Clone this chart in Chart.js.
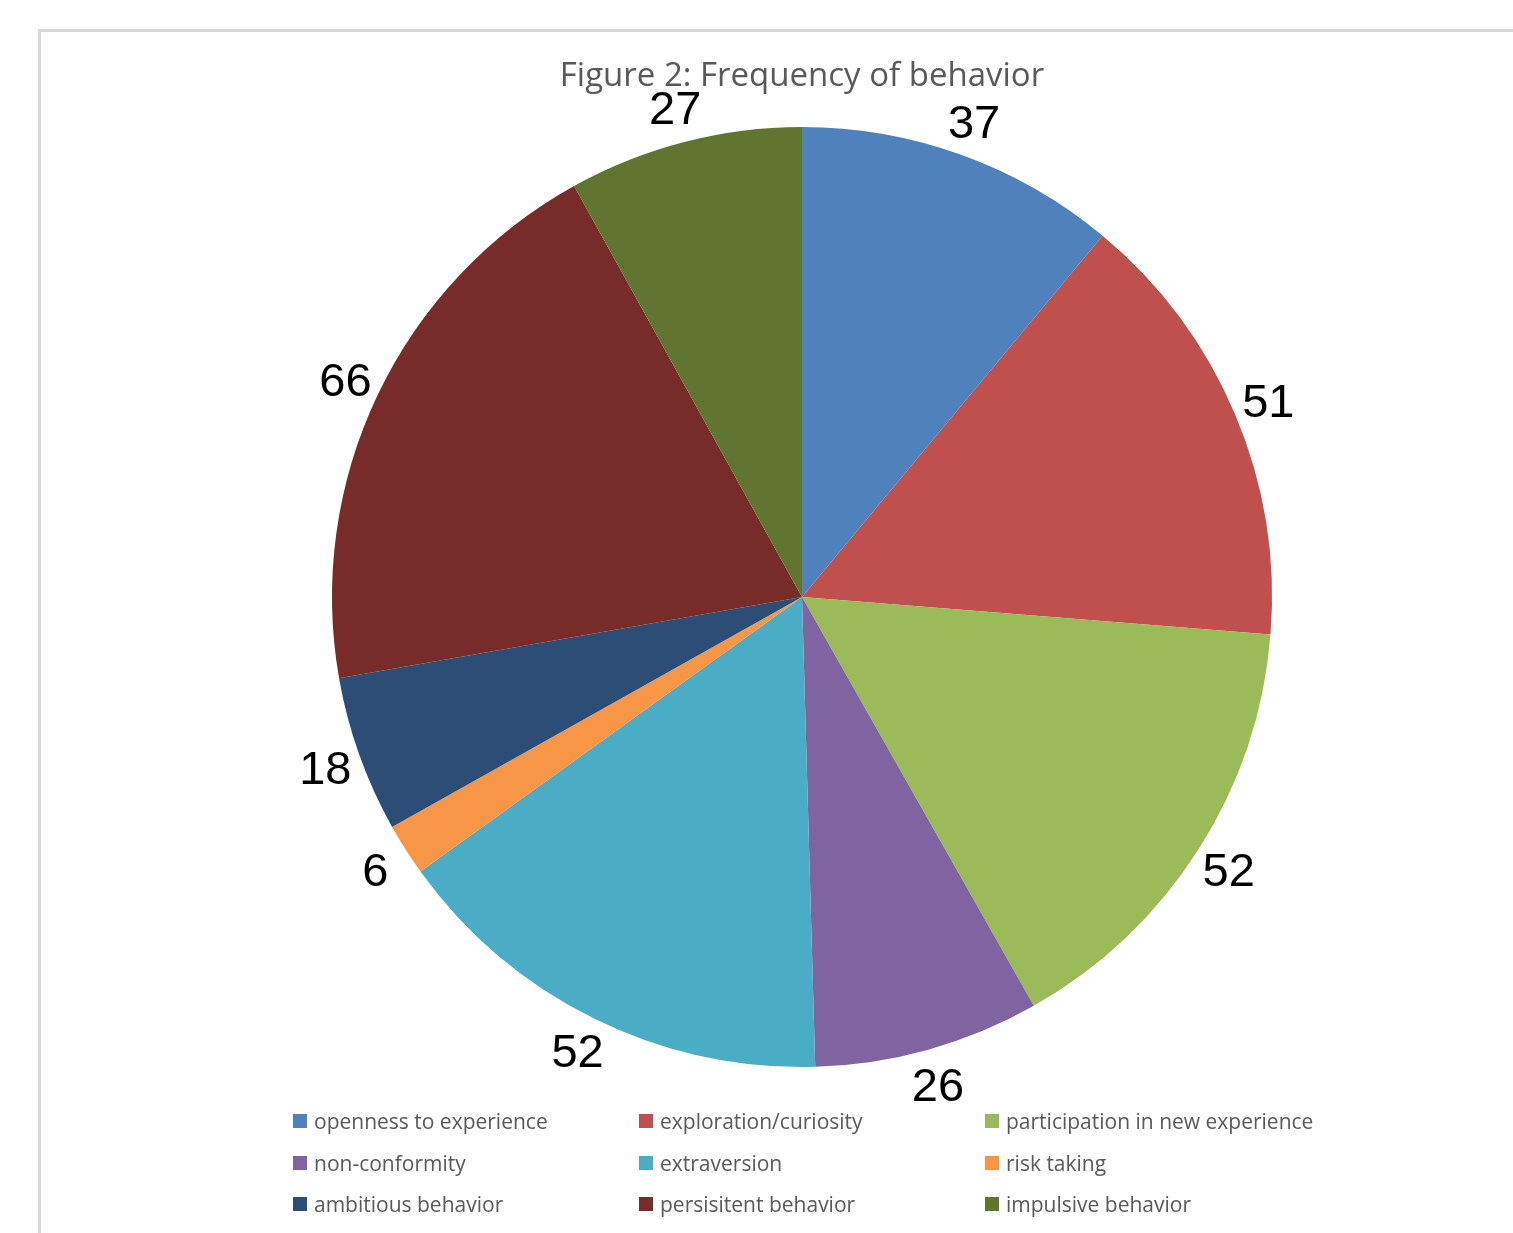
<!DOCTYPE html>
<html>
<head>
<meta charset="utf-8">
<script src="https://cdn.jsdelivr.net/npm/chart.js@4.4.0/dist/chart.umd.min.js"></script>
<style>
    html, body { margin: 0; padding: 0; background: #fff; overflow: hidden; }
    #frame {
        position: absolute; left: 38px; top: 29px;
        width: 1600px; height: 1300px;
        border: 3px solid #d9d9d9; box-sizing: border-box;
    }
    #pieChart { position: absolute; left: 0; top: 0; }
    #legend {
        position: absolute; left: 293px; top: 1107px;
        display: grid; grid-template-columns: 346px 346px 346px;
        grid-auto-rows: 41.5px;
        font-family: "Open Sans", sans-serif; font-size: 21px; color: #595959;
    }
    .item { display: flex; align-items: center; height: 28px; white-space: nowrap; }
    .box { width: 14px; height: 14px; margin-right: 7px; flex: none; }
</style>
</head>
<body>
<div id="frame"></div>
<canvas id="pieChart" width="1513" height="1233"></canvas>
<div id="legend"></div>
<script>
const labels = [
    'openness to experience',
    'exploration/curiosity',
    'participation in new experience',
    'non-conformity',
    'extraversion',
    'risk taking',
    'ambitious behavior',
    'persisitent behavior',
    'impulsive behavior',
];

const counts = [37, 51, 52, 26, 52, 6, 18, 66, 27];

const colors = [
    '#4F81BD',
    '#C0504D',
    '#9BBB59',
    '#8064A2',
    '#4BACC6',
    '#F79646',
    '#2C4D75',
    '#772C2A',
    '#5F7530',
];

// numbers outside the pie, on the middle angle of each slice
const outsideLabels = {
    id: 'outsideLabels',
    afterDatasetsDraw(chart) {
        const ctx = chart.ctx;
        const meta = chart.getDatasetMeta(0);
        const size = 47;
        ctx.save();
        ctx.font = size + 'px "Liberation Sans", Arial, sans-serif';
        ctx.fillStyle = '#000';
        ctx.textAlign = 'center';
        ctx.textBaseline = 'alphabetic';
        meta.data.forEach((arc, i) => {
            const p = arc.getProps(['x', 'y', 'startAngle', 'endAngle', 'outerRadius'], true);
            const mid = (p.startAngle + p.endAngle) / 2;
            const dist = p.outerRadius + 36;
            const x = p.x + Math.cos(mid) * dist;
            const y = p.y + Math.sin(mid) * dist;
            ctx.fillText(String(chart.data.datasets[0].data[i]), x, y + size * 0.716 / 2);
        });
        ctx.restore();
    }
};

const pieChart = new Chart(document.getElementById('pieChart'), {
    type: 'pie',
    data: {
        labels: labels,
        datasets: [{
            data: counts,
            backgroundColor: colors,
            borderWidth: 0,
        }]
    },
    options: {
        responsive: false,
        devicePixelRatio: 1,
        animation: false,
        layout: {
            padding: { top: 0, left: 332, right: 241, bottom: 166 }
        },
        plugins: {
            legend: { display: false },
            tooltip: { enabled: false },
            title: {
                display: true,
                text: 'Figure 2: Frequency of behavior',
                color: '#595959',
                font: { family: '"Open Sans", sans-serif', size: 33, weight: 'normal', lineHeight: 1.2 },
                padding: { top: 57, bottom: 30.4 }
            }
        }
    },
    plugins: [outsideLabels]
});

const legendEl = document.getElementById('legend');
labels.forEach((name, i) => {
    const item = document.createElement('div');
    item.className = 'item';
    const box = document.createElement('span');
    box.className = 'box';
    box.style.background = colors[i];
    const txt = document.createElement('span');
    txt.textContent = name;
    item.appendChild(box);
    item.appendChild(txt);
    legendEl.appendChild(item);
});
</script>
</body>
</html>
